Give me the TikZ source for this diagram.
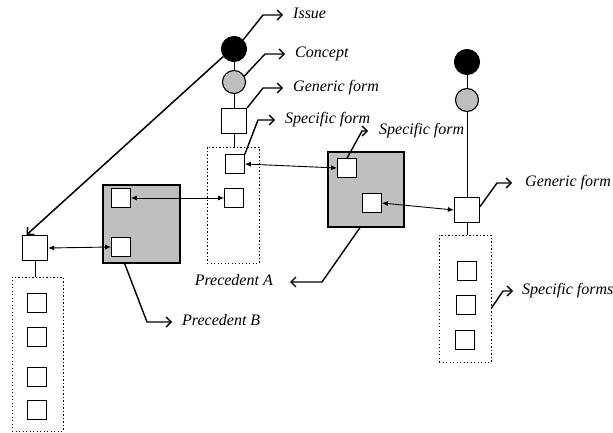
\documentclass[tikz,border=0pt]{standalone}
\usepackage{fontspec}
\setmainfont{Liberation Serif}
\usetikzlibrary{arrows.meta}
\begin{document}
\begin{tikzpicture}[x=1pt,y=-1pt,
  bigsq/.style={draw,line width=1.2pt,fill=white,minimum size=25pt,inner sep=0pt},
  smsq/.style={draw,line width=1.2pt,fill=white,minimum size=18.5pt,inner sep=0pt},
  issuec/.style={circle,draw,line width=1.1pt,fill=black,minimum size=25pt,inner sep=0pt},
  conceptc/.style={circle,draw,line width=1.1pt,fill=black!25,minimum size=23pt,inner sep=0pt},
  dotbox/.style={draw,line width=0.9pt,dash pattern=on 1.1pt off 2.4pt,inner sep=0pt},
  shadebox/.style={draw,line width=1.3pt,fill=black!25,inner sep=0pt},
  lbl/.style={inner sep=2pt,text height=10.5pt,text depth=3.5pt,font=\fontsize{16}{19}\selectfont\itshape},
  lab/.style={line width=1.4pt,-{Straight Barb[length=5pt,width=10pt,line width=1.4pt]},shorten >=8pt},
  link/.style={line width=0.9pt},
  dbl/.style={line width=0.9pt,{Latex[length=6pt,width=5pt]}-{Latex[length=6pt,width=5pt]}}
]
\useasboundingbox (0,0) rectangle (613,433);

% ---- containers first ----
\node[dotbox,minimum width=52pt,minimum height=116pt] (boxA) at (233,205) {};
\node[dotbox,minimum width=52pt,minimum height=127pt] (boxB) at (465,298.5) {};
\node[dotbox,minimum width=51pt,minimum height=154pt] (boxC) at (37.5,354) {};
\node[shadebox,minimum width=77pt,minimum height=78pt] (shadeL) at (141.5,224) {};
\node[shadebox,minimum width=76pt,minimum height=75pt] (shadeR) at (366,189.5) {};

% ---- middle column ----
\node[issuec] (issueA) at (234,49) {};
\node[conceptc] (conceptA) at (234,82) {};
\node[bigsq] (genA) at (234,121) {};
\node[smsq] (spA1) at (235,164) {};
\node[smsq] (spA2) at (234,198) {};

% ---- right column ----
\node[issuec] (issueB) at (467,62) {};
\node[conceptc] (conceptB) at (467,100) {};
\node[bigsq] (genB) at (467,210) {};
\node[smsq,minimum size=19pt] (spB1) at (467,271) {};
\node[smsq,minimum size=19pt] (spB2) at (466,305) {};
\node[smsq,minimum size=19pt] (spB3) at (465,340) {};

% ---- left column ----
\node[bigsq] (genC) at (35,248) {};
\node[smsq,minimum size=19pt] (spC1) at (37,303) {};
\node[smsq,minimum size=19pt] (spC2) at (37,337) {};
\node[smsq,minimum size=19pt] (spC3) at (37,377) {};
\node[smsq,minimum size=19pt] (spC4) at (37,410) {};

% ---- precedents ----
\node[smsq] (shL1) at (121,198) {};
\node[smsq] (shL2) at (121,247) {};
\node[smsq] (shR1) at (347,168) {};
\node[smsq] (shR2) at (372,203) {};

% ---- vertical links ----
\draw[link] (issueA) -- (conceptA);
\draw[link] (conceptA) -- (genA);
\draw[link] (genA.south) -- (genA.south |- boxA.north);
\draw[link] (issueB) -- (conceptB);
\draw[link] (conceptB) -- (genB);
\draw[link] (genB.south) -- (genB.south |- boxB.north);
\draw[link] (genC.south) -- (genC.south |- boxC.north);

% ---- double arrows ----
\draw[dbl] (spA1.east) -- (shR1.west);
\draw[dbl] (shL1.east) -- (spA2.west);
\draw[dbl] (genC.east) -- (shL2.west);
\draw[dbl] (shR2.east) -- (genB.west);

% ---- issue link to left generic form ----
\draw[line width=1.5pt,-{Straight Barb[length=5pt,width=10pt,line width=1.5pt]}] (issueA.215) -- (genC.123);

% ---- labels ----
\node[lbl,anchor=west] (tIssue) at (291,15) {Issue};
\node[lbl,anchor=west] (tConcept) at (293,54) {Concept};
\node[lbl,anchor=west] (tGenA) at (291,88) {Generic form};
\node[lbl,anchor=west] (tSpA) at (283,120) {Specific form};
\node[lbl,anchor=west] (tSpR) at (377,131) {Specific form};
\node[lbl,anchor=west] (tGenB) at (523,183) {Generic form};
\node[lbl,anchor=west] (tSpB) at (520,291) {Specific forms};
\node[lbl,anchor=east] (tPrecA) at (275,282) {Precedent A};
\node[lbl,anchor=west] (tPrecB) at (180,322) {Precedent B};

\coordinate (eIssue) at (263,15);
\coordinate (eConcept) at (265,54);
\coordinate (eGenA) at (263,88);
\coordinate (eSpA) at (258,120);
\coordinate (eSpR) at (362,131);
\coordinate (eGenB) at (497,183);
\coordinate (eSpB) at (503,291);
\coordinate (ePrecA) at (322,282);
\coordinate (ePrecB) at (147,322);

\draw[lab] (issueA.45) -- (eIssue) -- (tIssue);
\draw[lab] (conceptA.30) -- (eConcept) -- (tConcept);
\draw[lab] (genA.north east) -- (eGenA) -- (tGenA);
\draw[lab] (spA1.north east) -- (eSpA) -- (tSpA);
\draw[lab,shorten >=9pt] (shR1.north) -- (eSpR) -- (tSpR);
\draw[lab,shorten >=11pt] (genB.15) -- (eGenB) -- (tGenB);
\draw[lab,shorten >=7pt] (boxB.-20) -- (eSpB) -- (tSpB);
\draw[lab,shorten >=15pt] (shadeR.-99) -- (ePrecA) -- (tPrecA);
\draw[lab] (shadeL.-113) -- (ePrecB) -- (tPrecB);
\end{tikzpicture}
\end{document}
